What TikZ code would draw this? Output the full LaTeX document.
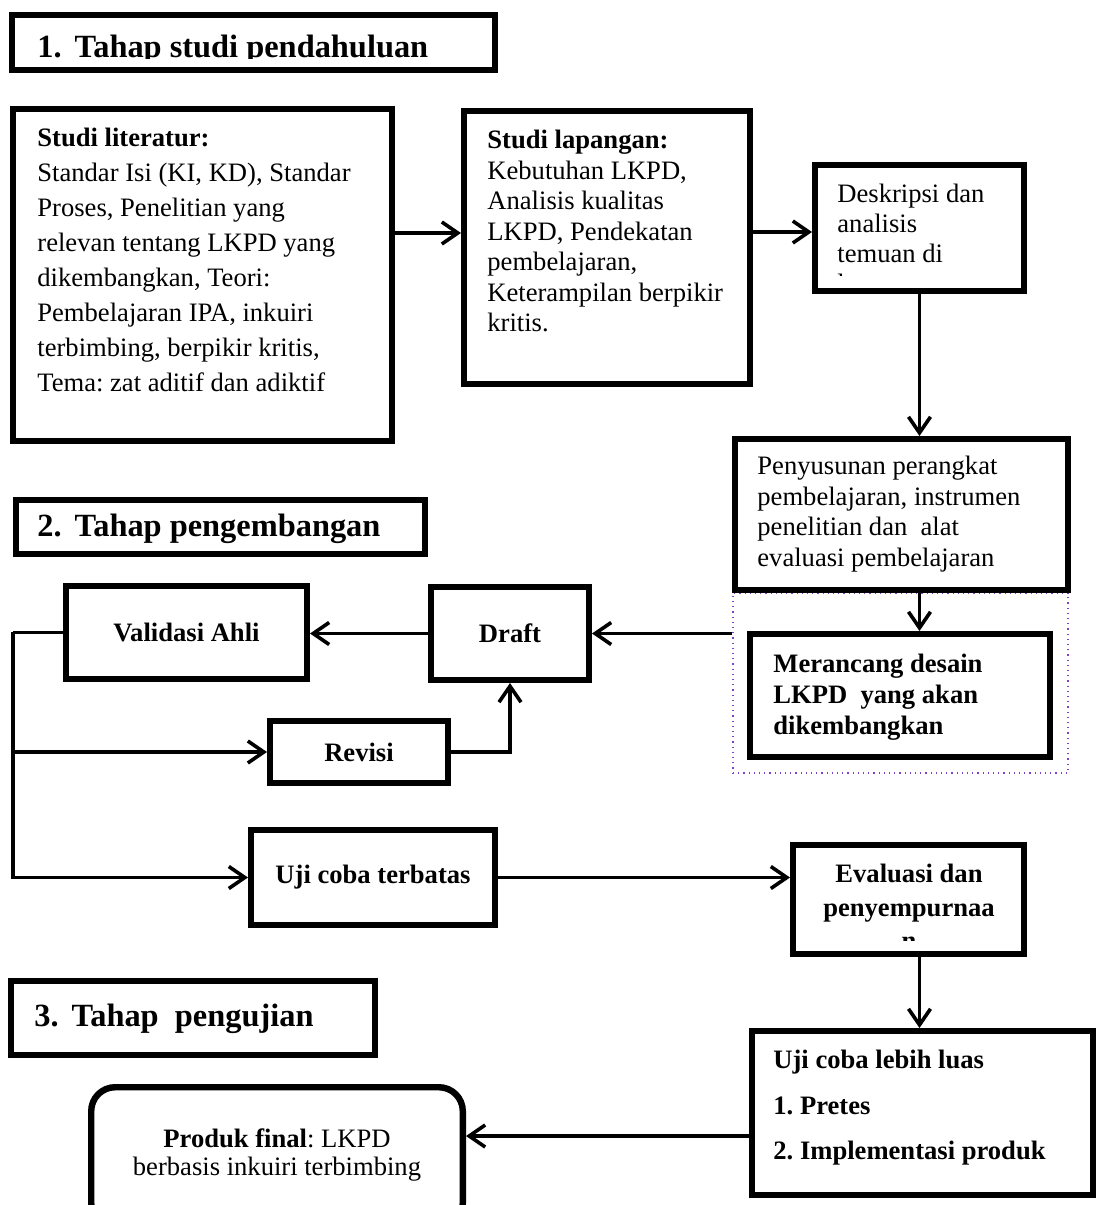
\documentclass[tikz,border=0pt]{standalone}
\usepackage{fontspec}
\setmainfont{Liberation Serif}
\usepackage{xcolor}
\usetikzlibrary{arrows.meta,positioning,shapes}
\definecolor{framepurple}{RGB}{128,64,200}
\frenchspacing

\begin{document}
\begin{tikzpicture}[x=0.5pt,y=-0.5pt,
	main box/.style={rectangle,draw,line width=3.2pt,inner sep=0pt},
	body text/.style={inner sep=0pt,anchor=north west,align=left,font=\fontsize{13.3}{15.25}\selectfont},
	bold text/.style={font=\bfseries\fontsize{13.3}{15.25}\selectfont},
	head text/.style={inner sep=0pt,anchor=base west,font=\bfseries\fontsize{16.2}{19}\selectfont},
	arr/.style={-{Straight Barb[length=8pt,width=11pt]},line width=1.8pt},
	plain/.style={line width=1.8pt}]

	\clip (0,0) rectangle (1098,1205);

	\node[main box,minimum width=241.3pt,minimum height=27.3pt] (T1) at (253.5,42.5) {};
	\begin{scope}
		\clip (15,18) rectangle (492,58.5);
		\node[head text] (T1txt) at (37,57) {1.\hspace{0.4em}Tahap studi pendahuluan};
	\end{scope}

	\node[main box,minimum width=189.3pt,minimum height=165.8pt] (L) at (202.5,275) {};
	\node[body text,font=\fontsize{13.3}{17.5}\selectfont] (Ltxt) at (37,128)
		{\textbf{Studi literatur:}\\Standar Isi (KI, KD), Standar\\Proses, Penelitian yang\\relevan tentang LKPD yang\\dikembangkan, Teori:\\Pembelajaran IPA, inkuiri\\terbimbing, berpikir kritis,\\Tema: zat aditif dan adiktif};

	\node[main box,minimum width=142.8pt,minimum height=136.3pt] (F) at (607,247.5) {};
	\node[body text] (Ftxt) at (487,130)
		{\textbf{Studi lapangan:}\\Kebutuhan LKPD,\\Analisis kualitas\\LKPD, Pendekatan\\pembelajaran,\\Keterampilan berpikir\\kritis.};

	\node[main box,minimum width=104.3pt,minimum height=62.8pt] (D) at (919.5,228) {};
	\begin{scope}
		\clip (818,168) rectangle (1021,275);
		\node[body text,font=\fontsize{13.3}{15}\selectfont] (Dtxt) at (837,184)
			{Deskripsi dan\\analisis\\temuan di\\lapangan};
	\end{scope}

	\node[draw=framepurple,dotted,line width=0.6pt,inner sep=0pt,
		minimum width=167.5pt,minimum height=90pt] (Fr) at (900.5,683) {};

	\node[main box,minimum width=166.3pt,minimum height=75.3pt] (P) at (901.5,514.5) {};
	\node[body text] (Ptxt) at (757,456)
		{Penyusunan perangkat\\pembelajaran, instrumen\\penelitian dan\ \ alat\\evaluasi pembelajaran};

	\node[main box,minimum width=149.8pt,minimum height=61.3pt] (M) at (900,695.5) {};
	\node[body text,font=\bfseries\fontsize{13.3}{15.5}\selectfont] (Mtxt) at (773,654)
		{Merancang desain\\LKPD\ \ yang akan\\dikembangkan};

	\node[main box,minimum width=204.3pt,minimum height=26.8pt] (T2) at (220.5,527) {};
	\node[head text] (T2txt) at (37,536) {2.\hspace{0.4em}Tahap pengembangan};

	\node[main box,bold text,minimum width=120.3pt,minimum height=46.3pt] (V) at (186.5,632.5) {Validasi Ahli};
	\node[main box,bold text,minimum width=78.8pt,minimum height=46.3pt] (Dr) at (510,633.5) {Draft};
	\node[main box,bold text,minimum width=88.8pt,minimum height=30.8pt] (R) at (359,752) {Revisi};
	\node[main box,bold text,minimum width=121.8pt,minimum height=47.3pt] (U) at (373,877.5) {Uji coba terbatas};

	\node[main box,minimum width=115.3pt,minimum height=54.3pt] (E) at (908.5,899.5) {};
	\begin{scope}
		\clip (796,848) rectangle (1021,940);
		\node[inner sep=0pt,anchor=north,align=center,font=\bfseries\fontsize{13.3}{16.75}\selectfont] (Etxt) at (909,864)
			{Evaluasi dan\\penyempurnaa\\n};
	\end{scope}

	\node[main box,minimum width=181.8pt,minimum height=36.8pt] (T3) at (193,1018) {};
	\node[head text] (T3txt) at (34,1026) {3.\hspace{0.4em}Tahap\ \ pengujian};

	\node[main box,minimum width=170.3pt,minimum height=81.8pt] (W) at (922.5,1113) {};
	\node[body text,font=\bfseries\fontsize{13.3}{22.75}\selectfont] (Wtxt) at (773,1050)
		{Uji coba lebih luas\\1. Pretes\\2. Implementasi produk};

	\node[main box,rounded corners=12pt,minimum width=185.8pt,minimum height=69.8pt] (Pf) at (277,1157) {};
	\node[inner sep=0pt,anchor=north,align=center,font=\fontsize{13.3}{14}\selectfont] (Pftxt) at (277,1128)
		{\textbf{Produk final}: LKPD\\berbasis inkuiri terbimbing};

	\coordinate (bus) at (13,632);

	\draw[arr] ([yshift=21pt]L.east) -- ([yshift=21pt]L.east -| F.west);
	\draw[arr] ([yshift=-2pt]D.west -| F.east) -- ([yshift=-2pt]D.west);
	\draw[arr] (D.south) -- (D.south |- P.north);
	\draw[arr] (D.south |- P.south) -- (D.south |- M.north);
	\draw[arr] (Fr.west |- Dr.east) -- (Dr.east);
	\draw[arr] (Dr.west) -- (Dr.west -| V.east);
	\draw[plain] (V.west) -- (V.west -| bus);
	\draw[arr] (bus) |- (U.west);
	\draw[arr] (bus |- R.west) -- (R.west);
	\draw[arr] (R.east) -| (Dr.south);
	\draw[arr] (U.east) -- (U.east -| E.west);
	\draw[arr] (D.south |- E.south) -- (D.south |- W.north);
	\draw[arr] ([yshift=-11.5pt]W.west) -- ([yshift=-11.5pt]W.west -| Pf.east);

\end{tikzpicture}
\end{document}
